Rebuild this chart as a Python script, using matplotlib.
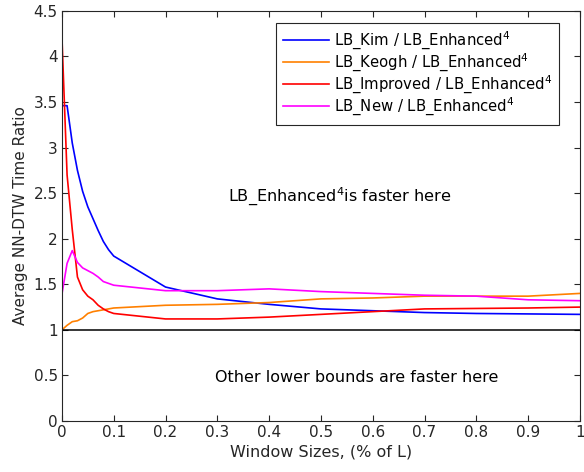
import matplotlib
matplotlib.use("Agg")
import matplotlib.pyplot as plt
import numpy as np

plt.rcParams["font.family"] = ["DejaVu Sans"]
plt.rcParams["mathtext.default"] = "regular"

# window sizes as fraction of series length L
window = [0.0, 0.01, 0.02, 0.03, 0.04, 0.05, 0.06, 0.07, 0.08, 0.09, 0.1,
          0.2, 0.3, 0.4, 0.5, 0.6, 0.7, 0.8, 0.9, 1.0]

kim = [3.46, 3.46, 3.05, 2.75, 2.52, 2.35, 2.22, 2.09, 1.97, 1.88, 1.81,
       1.47, 1.34, 1.28, 1.23, 1.21, 1.19, 1.18, 1.175, 1.17]
keogh = [1.0, 1.05, 1.09, 1.10, 1.13, 1.18, 1.20, 1.21, 1.22, 1.23, 1.24,
         1.27, 1.28, 1.30, 1.34, 1.35, 1.37, 1.37, 1.37, 1.40]
improved = [4.22, 2.70, 2.10, 1.58, 1.44, 1.37, 1.33, 1.27, 1.23, 1.20, 1.18,
            1.12, 1.12, 1.14, 1.17, 1.20, 1.23, 1.235, 1.24, 1.25]
new = [1.39, 1.73, 1.87, 1.74, 1.68, 1.65, 1.62, 1.58, 1.53, 1.51, 1.49,
       1.43, 1.43, 1.45, 1.42, 1.40, 1.38, 1.37, 1.33, 1.32]

series = [
    ("LB_Kim / LB_Enhanced$^4$", kim, (0, 0, 1)),
    ("LB_Keogh / LB_Enhanced$^4$", keogh, (1, 0.5, 0)),
    ("LB_Improved / LB_Enhanced$^4$", improved, (1, 0, 0)),
    ("LB_New / LB_Enhanced$^4$", new, (1, 0, 1)),
]

xticks = [0, 0.1, 0.2, 0.3, 0.4, 0.5, 0.6, 0.7, 0.8, 0.9, 1]
yticks = [0, 0.5, 1, 1.5, 2, 2.5, 3, 3.5, 4, 4.5]

fig = plt.figure(figsize=(5.84, 4.72), dpi=100)
ax = fig.add_axes([0.106, 0.108, 0.887, 0.869])

for label, vals, color in series:
    ax.plot(window, vals, color=color, lw=1.2, label=label)
ax.axhline(1.0, color="black", lw=1.1)

ax.set_xlim(0, 1)
ax.set_ylim(0, 4.5)
ax.set_xticks(xticks)
ax.set_xticklabels([f"{t:g}" for t in xticks])
ax.set_yticks(yticks)
ax.set_yticklabels([f"{t:g}" for t in yticks])

grey = "#262626"
for sp in ax.spines.values():
    sp.set_color(grey)
    sp.set_linewidth(0.8)
ax.tick_params(direction="in", top=True, right=True, colors=grey,
               labelsize=11, length=4, width=0.8, pad=3)
for lab in ax.get_xticklabels() + ax.get_yticklabels():
    lab.set_color(grey)

ax.set_xlabel("Window Sizes, (% of L)", fontsize=11.5, color=grey, labelpad=3)
ax.set_ylabel("Average NN-DTW Time Ratio", fontsize=11, color=grey, labelpad=4)

ax.text(0.537, 2.46, "LB_Enhanced$^4$is faster here", ha="center", va="center",
        fontsize=11.6, color="black")
ax.text(0.57, 0.48, "Other lower bounds are faster here", ha="center", va="center",
        fontsize=11.5, color="black")

leg = ax.legend(loc="upper left", bbox_to_anchor=(0.414, 0.971), fontsize=10.7,
                handlelength=3.1, handletextpad=0.3, borderpad=0.45,
                labelspacing=0.0, fancybox=False, framealpha=1, borderaxespad=0)
leg.get_frame().set_edgecolor(grey)
leg.get_frame().set_linewidth(0.8)

fig.savefig("out.png", dpi=100)
